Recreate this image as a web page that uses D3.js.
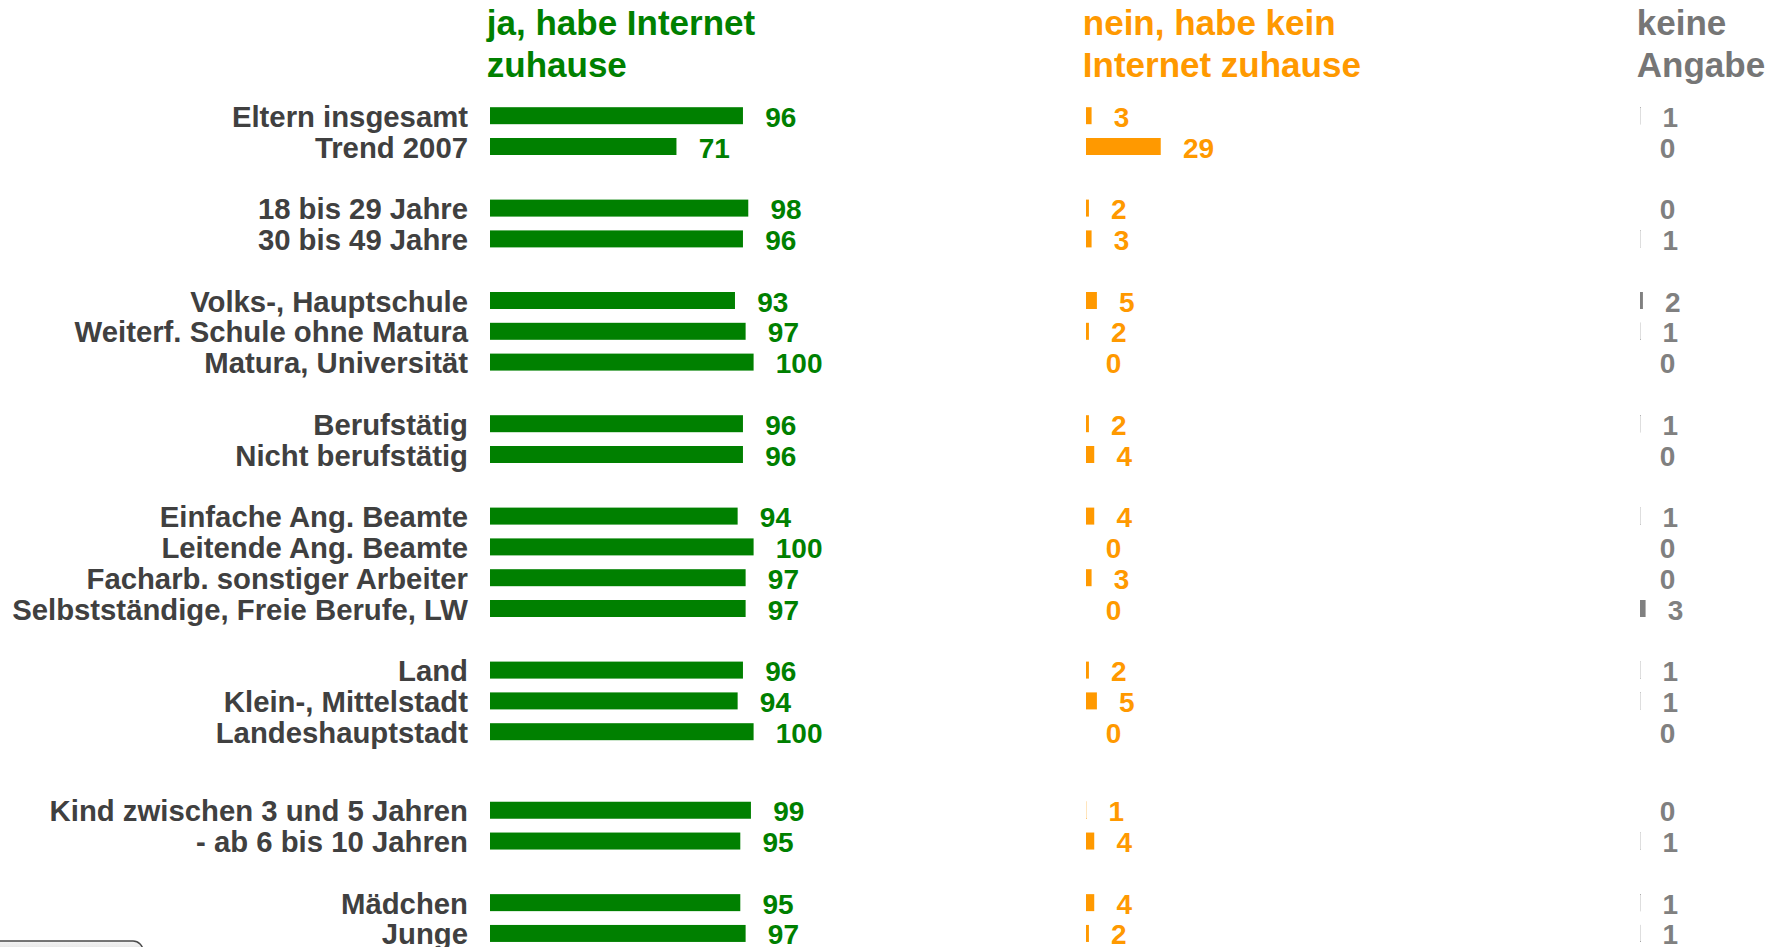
<!DOCTYPE html>
<html>
<head>
<meta charset="utf-8">
<script src="https://cdn.jsdelivr.net/npm/d3@7"></script>
<style>
  html, body { margin: 0; padding: 0; background: #fff; overflow: hidden; }
  svg { display: block; font-family: Arial, "Liberation Sans", sans-serif; font-weight: 700; }
</style>
</head>
<body>
<svg id="chart" width="1772" height="947"></svg>
<script>
// categories, grouped as in the original slide
const categories = [
  "Eltern insgesamt", "Trend 2007",
  "18 bis 29 Jahre", "30 bis 49 Jahre",
  "Volks-, Hauptschule", "Weiterf. Schule ohne Matura", "Matura, Universität",
  "Berufstätig", "Nicht berufstätig",
  "Einfache Ang. Beamte", "Leitende Ang. Beamte", "Facharb. sonstiger Arbeiter", "Selbstständige, Freie Berufe, LW",
  "Land", "Klein-, Mittelstadt", "Landeshauptstadt",
  "Kind zwischen 3 und 5 Jahren", "- ab 6 bis 10 Jahren",
  "Mädchen", "Junge"
];
const groupSizes = [2, 2, 3, 2, 4, 3, 2, 2];

const ja    = [96, 71, 98, 96, 93, 97, 100, 96, 96, 94, 100, 97, 97, 96, 94, 100, 99, 95, 95, 97];
const nein  = [3, 29, 2, 3, 5, 2, 0, 2, 4, 4, 0, 3, 0, 2, 5, 0, 1, 4, 4, 2];
const keine = [1, 0, 0, 1, 2, 1, 0, 1, 0, 1, 0, 0, 3, 1, 1, 0, 0, 1, 1, 1];

const seriesNames = [
  ["ja, habe Internet", "zuhause"],
  ["nein, habe kein", "Internet zuhause"],
  ["keine", "Angabe"]
];

/* layout */
const svg = d3.select("#chart");
const labelRight = 468;
const columns = [
  { values: ja,    x0: 488.8,  bar: "#008000", text: "#008000", head: "#008000" },
  { values: nein,  x0: 1084.8, bar: "#ff9900", text: "#ff9900", head: "#ff9900" },
  { values: keine, x0: 1638.8, bar: "#808080", text: "#808080", head: "#767676" }
];
// extra space between groups, in rows (the last-but-one gap is a bit wider)
const groupGaps = [0, 1, 1, 1, 1, 1, 1.55, 1];

// slot index of each row
const slots = [];
let s = 0;
groupSizes.forEach((n, gi) => {
  s += groupGaps[gi];
  for (let i = 0; i < n; i++) { slots.push(s); s++; }
});

const y = d3.scaleLinear().domain([0, 1]).range([115.7, 146.5]);
const w = d3.scaleLinear().domain([0, 100]).range([0, 266]);
const barH = 19.4;

// category labels
svg.append("g").selectAll("text")
  .data(categories)
  .join("text")
  .attr("x", labelRight)
  .attr("y", (d, i) => y(slots[i]) + 11)
  .attr("text-anchor", "end")
  .attr("font-size", 29.3)
  .attr("fill", "#404040")
  .text(d => d);

columns.forEach((col, ci) => {
  // header
  const head = svg.append("text")
    .attr("x", col.x0 - 2)
    .attr("font-size", 35)
    .attr("fill", col.head);
  seriesNames[ci].forEach((line, li) => {
    head.append("tspan").attr("x", col.x0 - 2).attr("y", 35 + li * 42).text(line);
  });

  const g = svg.append("g");
  g.selectAll("rect")
    .data(col.values)
    .join("rect")
    .attr("x", col.x0)
    .attr("y", (d, i) => y(slots[i]) - barH / 2)
    .attr("width", d => w(d))
    .attr("height", barH)
    .attr("fill", col.bar)
    .attr("stroke", d => d > 0 ? "#fff" : "none")
    .attr("stroke-width", 2.4);

  g.selectAll("text")
    .data(col.values)
    .join("text")
    .attr("x", d => col.x0 + w(d) + 21)
    .attr("y", (d, i) => y(slots[i]) + 11)
    .attr("font-size", 28)
    .attr("fill", col.text)
    .text(d => d);
});

// cut-off button in the lower left corner
const grad = svg.append("defs").append("linearGradient")
  .attr("id", "btn").attr("x1", 0).attr("x2", 0).attr("y1", 0).attr("y2", 1);
grad.append("stop").attr("offset", 0).attr("stop-color", "#f4f4f4");
grad.append("stop").attr("offset", 1).attr("stop-color", "#bdbdbd");
svg.append("rect")
  .attr("x", -12).attr("y", 941)
  .attr("width", 155).attr("height", 30).attr("rx", 10)
  .attr("fill", "url(#btn)")
  .attr("stroke", "#4a4a4a").attr("stroke-width", 1.5);
</script>
</body>
</html>
